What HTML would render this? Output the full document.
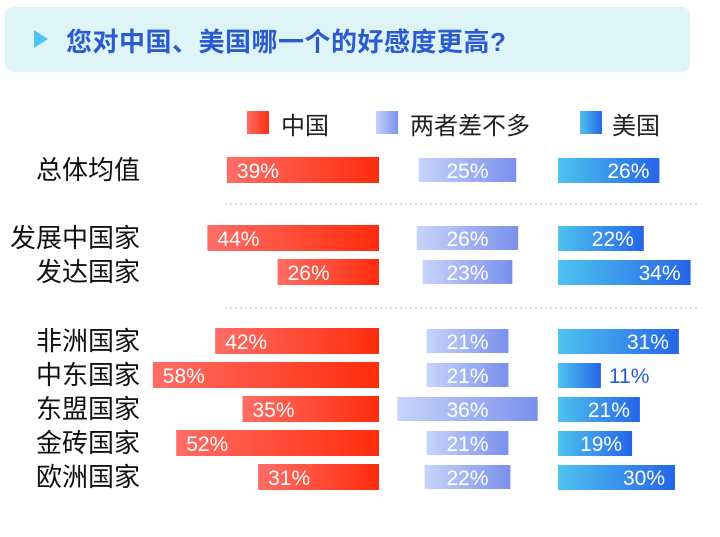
<!DOCTYPE html>
<html><head><meta charset="utf-8"><style>
body{margin:0;width:720px;height:537px;background:#fff;overflow:hidden;font-family:"Liberation Sans","Noto Sans CJK SC",sans-serif;position:relative}
.hdr{position:absolute;left:5px;top:7px;width:685px;height:65px;background:#dff4f6;border-radius:8px}
.tri{position:absolute;left:34px;top:30px;width:0;height:0;border-top:9px solid transparent;border-bottom:9px solid transparent;border-left:14px solid #4fc3f2}
.title{position:absolute;left:66px;top:22px;font-size:26px;font-weight:bold;color:#2a5bd0;white-space:nowrap;letter-spacing:0.5px}
.lg{position:absolute;top:106px;font-size:24px;color:#222;white-space:nowrap}
.sw{position:absolute;top:111px;width:22px;height:23px}
</style></head><body>
<div class="hdr"></div>
<div class="tri"></div>
<div class="title">您对中国、美国哪一个的好感度更高?</div>
<div class="sw" style="left:247px;background:linear-gradient(90deg,#ff6b63,#ff3010)"></div>
<div class="lg" style="left:281px">中国</div>
<div class="sw" style="left:376px;background:linear-gradient(90deg,#c5d2fb,#7d93ee)"></div>
<div class="lg" style="left:410px">两者差不多</div>
<div class="sw" style="left:580px;background:linear-gradient(90deg,#4cc0ee,#2768e8)"></div>
<div class="lg" style="left:612px">美国</div>
<svg id="chart" width="720" height="537" style="position:absolute;left:0;top:0">
<defs>
<linearGradient id="gr" x1="0" x2="1"><stop offset="0" stop-color="#ff6d66"/><stop offset="1" stop-color="#ff2c0c"/></linearGradient>
<linearGradient id="gm" x1="0" x2="1"><stop offset="0" stop-color="#c8d4fb"/><stop offset="1" stop-color="#7a90ec"/></linearGradient>
<linearGradient id="gu" x1="0" x2="1"><stop offset="0" stop-color="#4ec3ef"/><stop offset="1" stop-color="#2565e8"/></linearGradient>
</defs>
<line x1="225" x2="700" y1="204" y2="204" stroke="#bbb" stroke-dasharray="2,3"/>
<line x1="225" x2="700" y1="308" y2="308" stroke="#bbb" stroke-dasharray="2,3"/>
</svg>
<script>
const categories=["总体均值","发展中国家","发达国家","非洲国家","中东国家","东盟国家","金砖国家","欧洲国家"];
const chinaValues=[39,44,26,42,58,35,52,31];
const similarValues=[25,26,23,21,21,36,21,22];
const usaValues=[26,22,34,31,11,21,19,30];
const rowY=[170,238,272,341,375,409,443,477];
const k=3.9, chinaRight=379, midC=467.5, usLeft=558;
const svg=document.getElementById('chart');
const NS='http://www.w3.org/2000/svg';
function mk(t,a){const e=document.createElementNS(NS,t);for(const x in a)e.setAttribute(x,a[x]);svg.appendChild(e);return e;}
categories.forEach((c,i)=>{
  const y=rowY[i];
  const lab=mk('text',{x:140,y:y+9,'text-anchor':'end','font-size':26,fill:'#111'});lab.textContent=c;
  
  
  const w1=chinaValues[i]*k;
  const b1=mk('rect',{x:chinaRight-w1,y:y-13,width:w1,height:26,fill:'url(#gr)'});
  
  
  const t1=mk('text',{x:chinaRight-w1+10,y:y+8,'font-size':21,fill:'#fff'});t1.textContent=chinaValues[i]+'%';
  
  
  const w2=similarValues[i]*k;
  const b2=mk('rect',{x:midC-w2/2,y:y-12,width:w2,height:24,fill:'url(#gm)'});
  
  
  const t2=mk('text',{x:midC,y:y+8,'font-size':21,fill:'#fff','text-anchor':'middle'});t2.textContent=similarValues[i]+'%';
  
  
  const w3=usaValues[i]*k;
  const b3=mk('rect',{x:usLeft,y:y-12,width:w3,height:25,fill:'url(#gu)'});
  
  
  const inside=w3>60;
  const t3=mk('text',{x:inside?usLeft+w3-10:usLeft+w3+8,y:y+8,'font-size':21,fill:inside?'#fff':'#2a5bd0','text-anchor':inside?'end':'start'});t3.textContent=usaValues[i]+'%';
  
  
});
</script>
</body></html>
